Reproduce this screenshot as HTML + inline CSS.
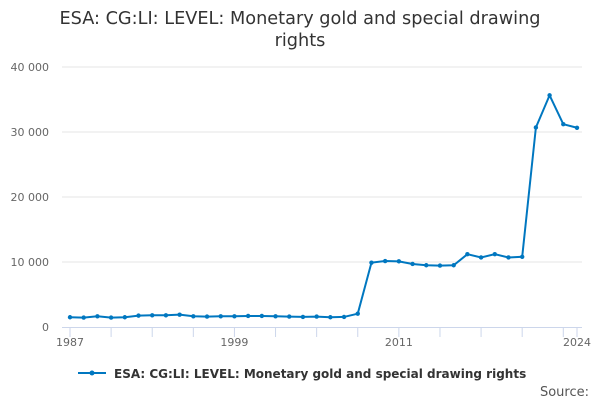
<!DOCTYPE html>
<html><head><meta charset="utf-8"><style>
body{margin:0;background:#fff;font-family:"Liberation Sans","DejaVu Sans",sans-serif}
svg text{font-family:"DejaVu Sans","Liberation Sans",sans-serif}
</style></head><body>
<svg width="600" height="400">
<text x="300" y="24" text-anchor="middle" font-size="17.7" fill="#333">ESA: CG:LI: LEVEL: Monetary gold and special drawing</text>
<text x="300" y="46" text-anchor="middle" font-size="17.7" fill="#333">rights</text>
<g id="grid"></g><g id="xax"></g><g id="plot"></g>
<g>
<line x1="78" y1="373" x2="106" y2="373" stroke="#0077c0" stroke-width="2"/>
<circle cx="92" cy="373" r="2.5" fill="#0077c0"/>
<text x="114" y="378" font-size="12" font-weight="bold" fill="#333">ESA: CG:LI: LEVEL: Monetary gold and special drawing rights</text>
</g>
<text x="589" y="396" text-anchor="end" font-size="13" fill="#555">Source:</text>
</svg>
<script>
const years=[];for(let y=1987;y<=2024;y++)years.push(y);
const values=[1500,1450,1650,1450,1500,1750,1800,1800,1900,1650,1600,1650,1650,1700,1700,1650,1600,1550,1600,1500,1550,2050,9900,10150,10100,9700,9500,9450,9500,11200,10700,11200,10700,10800,30700,35650,31200,30650];
const yTicks=[0,10000,20000,30000,40000];
const yTickLabels=["0","10 000","20 000","30 000","40 000"];
const xLabelYears=[1987,1999,2011,2024];
const NS="http://www.w3.org/2000/svg";
const x=v=>70+(v-1987)*(577-70)/37;
const y=v=>327-v*260/40000;
function mk(t,a,p){const e=document.createElementNS(NS,t);for(const k in a)e.setAttribute(k,a[k]);p.appendChild(e);return e;}
const grid=document.getElementById('grid'),xax=document.getElementById('xax'),plot=document.getElementById('plot');
yTicks.forEach((t,i)=>{
 if(i>0){const l=mk('line',{x1:62,x2:582,y1:y(t),y2:y(t),stroke:'#e6e6e6'},grid);
 
 }
 const tx=mk('text',{x:49,y:y(t)+4,'text-anchor':'end','font-size':11,fill:'#666'},grid);tx.textContent=yTickLabels[i];
 
 
});
const ax=mk('line',{x1:62,x2:582,y1:327.5,y2:327.5,stroke:'#ccd6eb'},xax);


for(let yr=1987;yr<=2024;yr+=3){const tk=mk('line',{x1:x(yr),x2:x(yr),y1:327,y2:337,stroke:'#ccd6eb'},xax);
 
 }
const tk2=mk('line',{x1:x(2024),x2:x(2024),y1:327,y2:337,stroke:'#ccd6eb'},xax);


xLabelYears.forEach(yr=>{const t=mk('text',{x:x(yr),y:346,'text-anchor':'middle','font-size':11,fill:'#666'},xax);t.textContent=yr;
 
 });
const pl=mk('polyline',{points:values.map((v,i)=>x(years[i])+','+y(v)).join(' '),fill:'none',stroke:'#0077c0','stroke-width':2},plot);


values.forEach((v,i)=>{const c=mk('circle',{cx:x(years[i]),cy:y(v),r:2.2,fill:'#0077c0'},plot);
 
 });
</script>
</body></html>
